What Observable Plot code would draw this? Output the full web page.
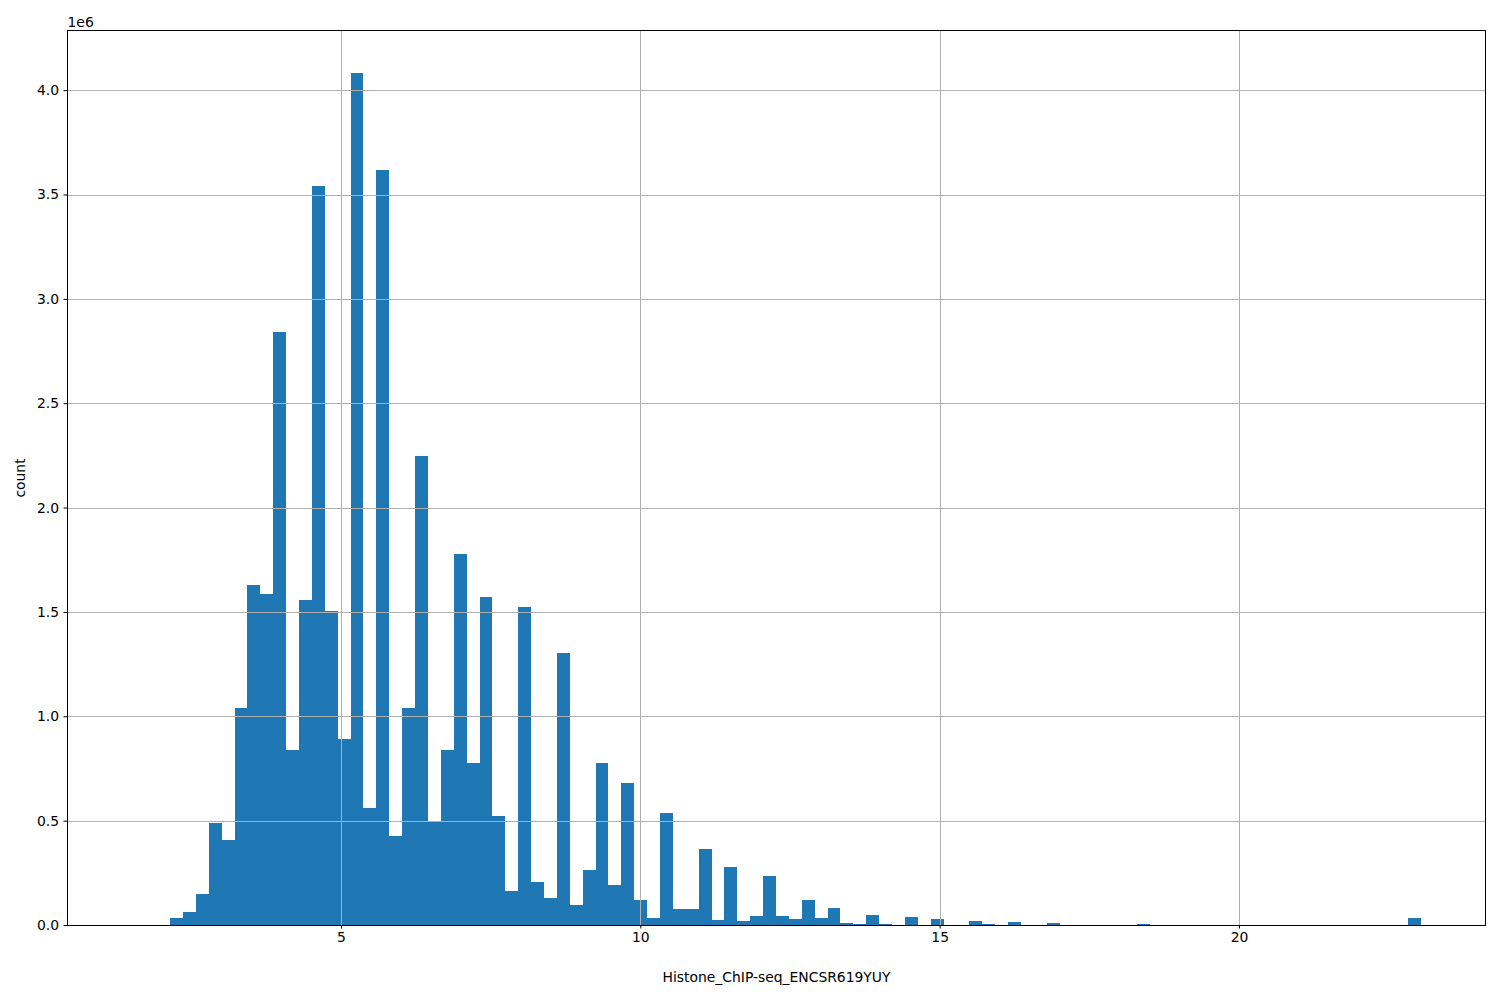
<!DOCTYPE html>
<html>
<head>
<meta charset="utf-8">
<script src="https://cdn.jsdelivr.net/npm/d3@7"></script>
<script src="https://cdn.jsdelivr.net/npm/@observablehq/plot@0.6"></script>
<style>
  html, body { margin: 0; padding: 0; background: white; }
</style>
</head>
<body>
<div id="chart"></div>
<script>
// Histogram bins (100 equal bins as produced by pandas/matplotlib hist)
const binStart = 1.5;
const binWidth = 0.21533;
// counts per bin, in millions
const countsM = [
  0, 0, 0, 0.034, 0.062, 0.149, 0.489, 0.407, 1.040, 1.630,
  1.587, 2.843, 0.839, 1.558, 3.543, 1.505, 0.892, 4.084, 0.561, 3.619,
  0.427, 1.040, 2.248, 0.499, 0.839, 1.778, 0.777, 1.572, 0.523, 0.163,
  1.524, 0.206, 0.130, 1.304, 0.097, 0.264, 0.777, 0.193, 0.681, 0.120,
  0.034, 0.537, 0.077, 0.077, 0.364, 0.024, 0.278, 0.019, 0.043, 0.235,
  0.043, 0.029, 0.120, 0.034, 0.082, 0.011, 0.005, 0.048, 0.005, 0,
  0.038, 0, 0.029, 0, 0, 0.019, 0.005, 0, 0.014, 0,
  0, 0.010, 0, 0, 0, 0, 0, 0, 0.005, 0,
  0, 0, 0, 0, 0, 0, 0, 0, 0, 0,
  0, 0, 0, 0, 0, 0, 0, 0, 0, 0.034
];
const xTicks = [5, 10, 15, 20];
const yTicks = [0, 0.5e6, 1.0e6, 1.5e6, 2.0e6, 2.5e6, 3.0e6, 3.5e6, 4.0e6];
const xLabel = "Histone_ChIP-seq_ENCSR619YUY";
const yLabel = "count";
const offsetLabel = "1e6";

const bins = countsM.map((c, i) => ({
  x1: binStart + i * binWidth,
  x2: binStart + (i + 1) * binWidth,
  count: c * 1e6
}));
const dataMin = binStart;
const dataMax = binStart + countsM.length * binWidth;
const pad = 0.05 * (dataMax - dataMin);
const yMax = d3.max(bins, d => d.count) * 1.05;

const gridStyle = { stroke: "#b0b0b0", strokeOpacity: 1, strokeWidth: 1, shapeRendering: "crispEdges" };

const chart = Plot.plot({
  width: 1500,
  height: 1000,
  marginLeft: 67,
  marginRight: 15,
  marginTop: 30,
  marginBottom: 75,
  style: { fontFamily: "DejaVu Sans", fontSize: "13.9px", background: "white", color: "black" },
  x: { domain: [dataMin - pad, dataMax + pad] },
  y: { domain: [0, yMax] },
  marks: [
    Plot.rect(bins, { x1: "x1", x2: "x2", y1: 0, y2: "count", fill: "#1f77b4", shapeRendering: "crispEdges" }),
    Plot.gridX(xTicks, gridStyle),
    Plot.gridY(yTicks, gridStyle),
    Plot.axisX(xTicks, { tickSize: 3.5, tickPadding: 3.5, label: null, tickFormat: d => String(d) }),
    Plot.axisY(yTicks, { tickSize: 3.5, tickPadding: 5, label: null, tickFormat: d => (d / 1e6).toFixed(1) }),
    Plot.frame({ stroke: "black", strokeWidth: 1 }),
    Plot.text([offsetLabel], { text: d => d, frameAnchor: "top-left", textAnchor: "start", lineAnchor: "bottom", dy: -4 }),
    Plot.text([xLabel], { text: d => d, frameAnchor: "bottom", textAnchor: "middle", lineAnchor: "middle", dy: 52 }),
    Plot.text([yLabel], { text: d => d, frameAnchor: "left", textAnchor: "middle", lineAnchor: "middle", rotate: -90, dx: -47 })
  ]
});
document.getElementById("chart").appendChild(chart);
</script>
</body>
</html>
